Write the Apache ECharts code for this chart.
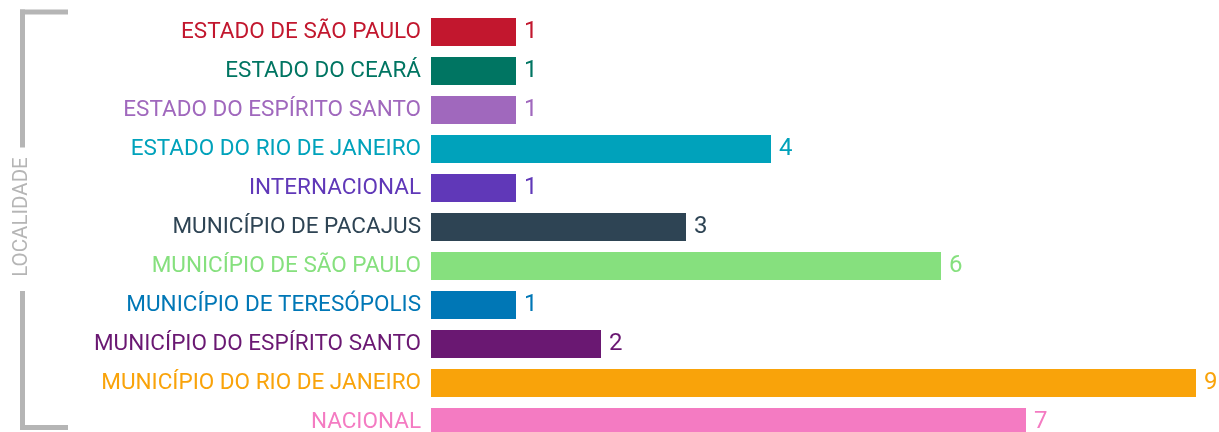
<!DOCTYPE html>
<html>
<head>
<meta charset="utf-8">
<script src="https://cdn.jsdelivr.net/npm/echarts@6/dist/echarts.min.js"></script>
<style>html,body{margin:0;padding:0;background:#fff;overflow:hidden;}#c{width:1219px;height:460px;}</style>
</head>
<body>
<div id="c"></div>
<script>
const categories = [
  'ESTADO DE SÃO PAULO',
  'ESTADO DO CEARÁ',
  'ESTADO DO ESPÍRITO SANTO',
  'ESTADO DO RIO DE JANEIRO',
  'INTERNACIONAL',
  'MUNICÍPIO DE PACAJUS',
  'MUNICÍPIO DE SÃO PAULO',
  'MUNICÍPIO DE TERESÓPOLIS',
  'MUNICÍPIO DO ESPÍRITO SANTO',
  'MUNICÍPIO DO RIO DE JANEIRO',
  'NACIONAL'
];
const values = [1, 1, 1, 4, 1, 3, 6, 1, 2, 9, 7];
const colors = ['#c2172e', '#007562', '#a068bd', '#00a2bb', '#6038b8', '#2e4454', '#86e07e', '#0077b6', '#6a1872', '#f9a30a', '#f47bc2'];
const axisName = 'LOCALIDADE';

const FONT = 'Roboto, sans-serif';
const chart = echarts.init(document.getElementById('c'), null, {renderer: 'canvas'});
const gray = '#b5b5b5';
chart.setOption({
  animation: false,
  grid: {left: 431, right: 23, top: 12.5, height: 429, containLabel: false},
  xAxis: {type: 'value', min: 0, max: 9, show: false},
  yAxis: {
    type: 'category', inverse: true, data: categories,
    axisLine: {show: false}, axisTick: {show: false},
    axisLabel: {
      margin: 10, fontFamily: FONT, fontSize: 22.5,
      color: function (v, i) { return colors[categories.indexOf(v)]; }
    }
  },
  series: [{
    type: 'bar', barWidth: 28,
    data: values.map((v, i) => ({value: v, itemStyle: {color: colors[i]}, label: {color: colors[i]}})),
    label: {show: true, position: 'right', distance: 8, fontFamily: FONT, fontSize: 24}
  }],
  graphic: [
    {type: 'rect', shape: {x: 20, y: 9.5, width: 5, height: 138}, style: {fill: gray}},
    {type: 'rect', shape: {x: 20, y: 9.5, width: 48, height: 5}, style: {fill: gray}},
    {type: 'rect', shape: {x: 20, y: 291, width: 5, height: 139}, style: {fill: gray}},
    {type: 'rect', shape: {x: 20, y: 425, width: 48, height: 5}, style: {fill: gray}},
    {type: 'text', x: 22, y: 217, rotation: Math.PI / 2,
     style: {text: axisName, fill: gray, font: '20.5px ' + FONT, textAlign: 'center', textVerticalAlign: 'middle'}}
  ]
});
</script>
</body>
</html>
